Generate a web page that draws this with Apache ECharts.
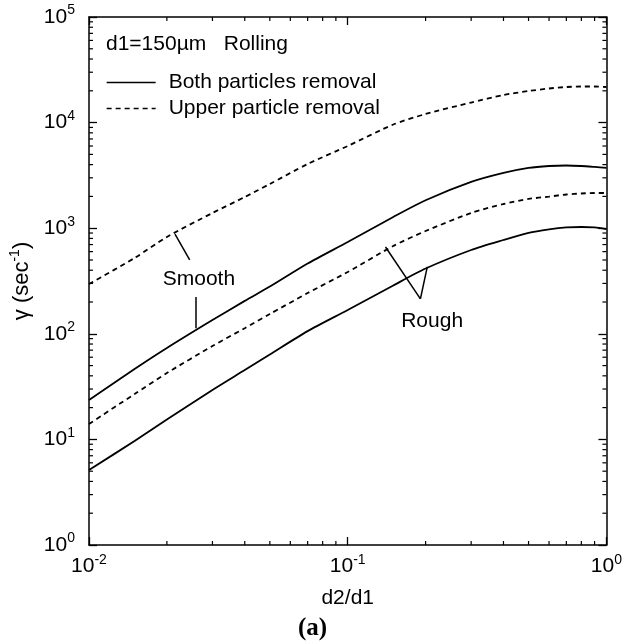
<!DOCTYPE html>
<html>
<head>
<meta charset="utf-8">
<script src="https://cdn.jsdelivr.net/npm/echarts@6/dist/echarts.min.js"></script>
<style>
html,body{margin:0;padding:0;background:#fff;}
#chart{width:625px;height:642px;}
</style>
</head>
<body>
<div id="chart"></div>
<script>
// ---- data ----
var xRatio = [0.01, 0.015, 0.02, 0.03, 0.04, 0.05, 0.07, 0.1, 0.15, 0.2, 0.3, 0.4, 0.5, 0.6, 0.7, 0.8, 0.9, 1.0];
var smoothBoth  = [23.6, 46.4, 73.4, 135, 205, 280, 463, 740, 1277, 1838, 2740, 3335, 3720, 3880, 3925, 3880, 3800, 3720];
var roughBoth   = [5.13, 9.66, 15.4, 29.4, 45.4, 63.7, 106, 168, 287, 415, 622, 773, 901, 973, 1016, 1026, 1016, 982];
var roughUpper  = [14.0, 26.9, 42.5, 76.6, 113, 154, 243, 385, 678, 940, 1393, 1695, 1892, 1992, 2085, 2132, 2154, 2154];
var smoothUpper = [296, 522, 826, 1393, 1974, 2622, 4055, 6000, 9590, 12060, 15490, 18240, 19910, 21040, 21730, 21980, 21980, 21730];

var xMin = 0.01, xMax = 1;
var yMin = 1, yMax = 100000;
var minorMult = [2, 3, 4, 5, 6, 7, 8, 9];

var seriesNameBoth = 'Both particles removal';
var seriesNameUpper = 'Upper particle removal';
var headerText = 'd1=150\u00b5m   Rolling';
var xName = 'd2/d1';
var panelLabel = '(a)';

// annotation pointers (data coordinates)
var pointerLines = [
  [[0.0215, 881], [0.0245, 500]],
  [[0.0259, 223], [0.0259, 113]],
  [[0.140, 664], [0.191, 214]],
  [[0.191, 214], [0.203, 430]]
];
var annotTexts = [[0.0266, 330, 'Smooth'], [0.212, 132, 'Rough']];

// ---- helpers ----
var FONT = "'Liberation Sans', Arial, Helvetica, sans-serif";
function zip(xs, ys) { return xs.map(function (x, i) { return [x, ys[i]]; }); }
function minorValues(lo, hi) {
  var out = [];
  for (var k = Math.round(Math.log10(lo)); k < Math.round(Math.log10(hi)); k++) {
    minorMult.forEach(function (m) { out.push(m * Math.pow(10, k)); });
  }
  return out;
}
var xMinor = minorValues(xMin, xMax);
var yMinor = minorValues(yMin, yMax);

function expLabel(v) {
  var e = Math.round(Math.log10(v));
  return '{b|10}{s|' + e + '}';
}
var richSup = {
  b: { fontSize: 21, fontFamily: FONT, color: '#000', lineHeight: 27 },
  s: { fontSize: 14, fontFamily: FONT, color: '#000', lineHeight: 14, verticalAlign: 'top' }
};

var lineCommon = { type: 'line', showSymbol: false, symbol: 'none', smooth: 0.25, silent: true, xAxisIndex: 0, yAxisIndex: 0 };
var solidStyle = { color: '#000', width: 1.8, type: 'solid' };
var dashStyle = { color: '#000', width: 1.8, type: [5, 4] };
var MINOR_LEN = 4;

function tickSeries(values, isX) {
  return {
    type: 'custom', xAxisIndex: 0, yAxisIndex: 0, silent: true, clip: false,
    data: values.map(function (v) { return isX ? [v, yMin] : [xMin, v]; }),
    renderItem: function (params, api) {
      var st = { stroke: '#000', lineWidth: 1.2 };
      if (isX) {
        var v = api.value(0);
        var b = api.coord([v, yMin]), t = api.coord([v, yMax]);
        return { type: 'group', children: [
          { type: 'line', shape: { x1: b[0], y1: b[1], x2: b[0], y2: b[1] - MINOR_LEN }, style: st },
          { type: 'line', shape: { x1: t[0], y1: t[1], x2: t[0], y2: t[1] + MINOR_LEN }, style: st }
        ] };
      } else {
        var w = api.value(1);
        var l = api.coord([xMin, w]), r = api.coord([xMax, w]);
        return { type: 'group', children: [
          { type: 'line', shape: { x1: l[0], y1: l[1], x2: l[0] + MINOR_LEN, y2: l[1] }, style: st },
          { type: 'line', shape: { x1: r[0], y1: r[1], x2: r[0] - MINOR_LEN, y2: r[1] }, style: st }
        ] };
      }
    }
  };
}

var majorAxisCommon = {
  type: 'log', logBase: 10,
  axisLine: { show: true, lineStyle: { color: '#000', width: 1.5 } },
  axisTick: { show: true, inside: true, length: 8, lineStyle: { color: '#000', width: 1.3 } },
  splitLine: { show: false }, minorTick: { show: false }
};

var chart = echarts.init(document.getElementById('chart'), null, { renderer: 'canvas' });
var option = {
  animation: false,
  backgroundColor: '#fff',
  textStyle: { fontFamily: FONT, color: '#000' },
  title: [
    { text: headerText, left: 106, top: 34, padding: 0,
      textStyle: { fontSize: 21, fontWeight: 'normal', fontFamily: FONT, color: '#000' } },
    { text: panelLabel, left: 'center', top: 616, padding: 0,
      textStyle: { fontSize: 25, fontWeight: 'bold', fontFamily: "'Liberation Serif', 'Times New Roman', serif", color: '#000' } }
  ],
  legend: {
    data: [seriesNameBoth, seriesNameUpper],
    orient: 'vertical', left: 106, top: 72, padding: 0,
    itemWidth: 49, itemHeight: 14, itemGap: 5,
    itemStyle: { opacity: 0 },
    lineStyle: { width: 1.3 },
    textStyle: { fontSize: 21, fontFamily: FONT, color: '#000', lineHeight: 20, padding: [0, 0, 0, 8] },
    selectedMode: false
  },
  grid: { left: 89, right: 13, top: 17, bottom: 97 },
  xAxis: [
    Object.assign({}, majorAxisCommon, { min: xMin, max: xMax, position: 'bottom',
      name: xName, nameLocation: 'middle', nameGap: 43,
      nameTextStyle: { fontSize: 21, fontFamily: FONT, color: '#000' },
      axisLabel: { show: true, margin: 8, formatter: expLabel, rich: richSup } }),
    Object.assign({}, majorAxisCommon, { min: xMin, max: xMax, position: 'top', axisLabel: { show: false } })
  ],
  yAxis: [
    Object.assign({}, majorAxisCommon, { min: yMin, max: yMax, position: 'left',
      name: '{g|\u03b3 (sec}{s|-1}{g|)}', nameLocation: 'middle', nameGap: 46, nameRotate: 90,
      nameTextStyle: { rich: {
        g: { fontSize: 22, fontFamily: FONT, color: '#000', lineHeight: 27 },
        s: { fontSize: 14, fontFamily: FONT, color: '#000', lineHeight: 14, verticalAlign: 'top' } } },
      axisLabel: { show: true, margin: 14, formatter: expLabel, rich: richSup } }),
    Object.assign({}, majorAxisCommon, { min: yMin, max: yMax, position: 'right', axisLabel: { show: false } })
  ],
  series: [
    Object.assign({}, lineCommon, { name: seriesNameBoth, data: zip(xRatio, smoothBoth), lineStyle: solidStyle, itemStyle: { color: '#000' },
      markLine: { silent: true, symbol: ['none', 'none'], animation: false,
        lineStyle: { color: '#000', width: 1.5, type: 'solid' }, label: { show: false },
        data: pointerLines.map(function (p) { return [{ coord: p[0] }, { coord: p[1] }]; }) } }),
    Object.assign({}, lineCommon, { name: seriesNameBoth, data: zip(xRatio, roughBoth), lineStyle: solidStyle, itemStyle: { color: '#000' } }),
    Object.assign({}, lineCommon, { name: seriesNameUpper, data: zip(xRatio, roughUpper), lineStyle: dashStyle, itemStyle: { color: '#000' } }),
    Object.assign({}, lineCommon, { name: seriesNameUpper, data: zip(xRatio, smoothUpper), lineStyle: dashStyle, itemStyle: { color: '#000' } }),
    { type: 'scatter', name: 'annot', xAxisIndex: 0, yAxisIndex: 0, silent: true,
      symbolSize: 1, itemStyle: { color: 'rgba(0,0,0,0)' },
      emphasis: { disabled: true },
      data: annotTexts,
      label: { show: true, position: 'inside', formatter: function (p) { return p.data[2]; },
        fontSize: 21, fontFamily: FONT, color: '#000', textBorderWidth: 0, opacity: 1 } },
    tickSeries(xMinor, true),
    tickSeries(yMinor, false)
  ]
};
chart.setOption(option);
</script>
</body>
</html>
